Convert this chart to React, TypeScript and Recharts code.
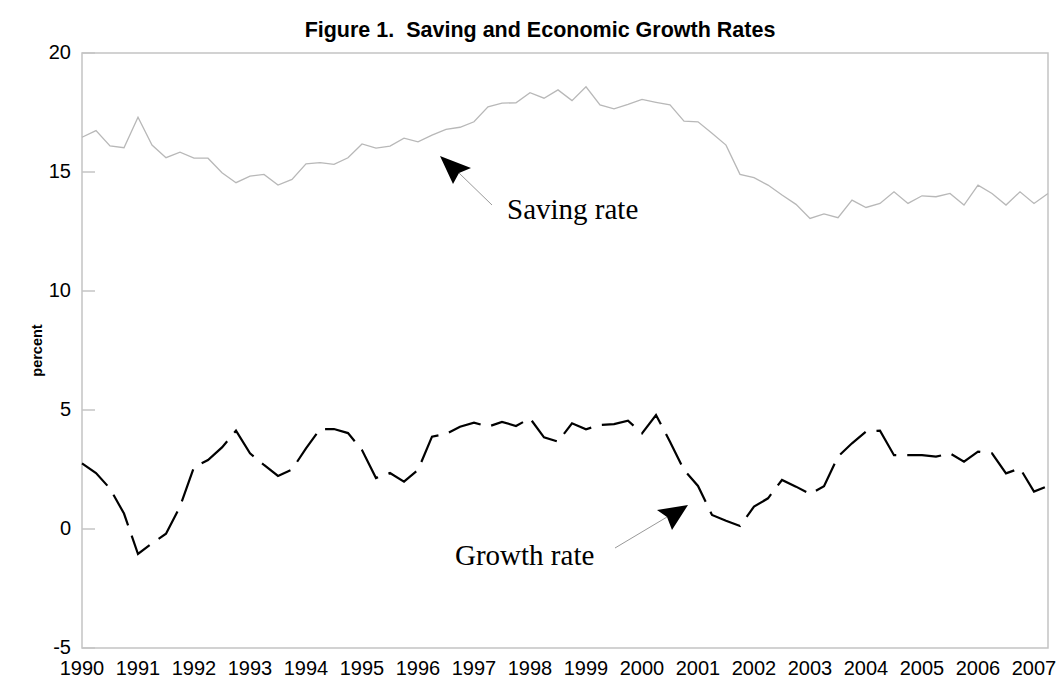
import { LineChart, Line, XAxis, YAxis, ReferenceArea } from "recharts";

// quarterly, 1990Q1 .. 2007Q2
const yearLabels = ["1990", "1991", "1992", "1993", "1994", "1995", "1996", "1997", "1998", "1999", "2000", "2001", "2002", "2003", "2004", "2005", "2006", "2007"];
const yTicks = [-5, 0, 5, 10, 15, 20];

const savingRate = [
  16.46, 16.74, 16.1, 16.02, 17.3, 16.13, 15.6, 15.83, 15.58, 15.58,
  14.97, 14.55, 14.83, 14.9, 14.45, 14.69, 15.34, 15.39, 15.32, 15.6,
  16.18, 16.0, 16.09, 16.42, 16.27, 16.55, 16.79, 16.88, 17.11, 17.74,
  17.89, 17.91, 18.33, 18.1, 18.45, 18.0, 18.58, 17.82, 17.65, 17.84,
  18.05, 17.93, 17.82, 17.14, 17.11, 16.63, 16.13, 14.9, 14.76, 14.45,
  14.03, 13.64, 13.05, 13.24, 13.08, 13.82, 13.51, 13.68, 14.17, 13.68,
  14.0, 13.96, 14.1, 13.61, 14.45, 14.1, 13.61, 14.17, 13.68, 14.1,
];

const growthRate = [
  2.76, 2.35, 1.7, 0.65, -1.05, -0.6, -0.2, 0.94, 2.6, 2.9,
  3.43, 4.13, 3.18, 2.69, 2.23, 2.5, 3.39, 4.2, 4.2, 4.03,
  3.32, 2.14, 2.35, 1.99, 2.48, 3.88, 3.99, 4.3, 4.47, 4.3,
  4.5, 4.33, 4.65, 3.85, 3.67, 4.44, 4.19, 4.37, 4.41, 4.55,
  4.02, 4.79, 3.67, 2.48, 1.81, 0.59, 0.35, 0.13, 0.94, 1.29,
  2.06, 1.78, 1.47, 1.8, 3.04, 3.6, 4.09, 4.13, 3.1, 3.1,
  3.1, 3.04, 3.18, 2.83, 3.25, 3.18, 2.34, 2.55, 1.57, 1.81,
];

const data = savingRate.map((s, i) => ({ q: i, saving: s, growth: growthRate[i] }));
const xTicks = yearLabels.map((_, i) => i * 4);
const lastQ = savingRate.length - 1;

const FRAME = "#c4c4c4";
const SANS = "'Liberation Sans', Arial, sans-serif";
const SERIF = "'Liberation Serif', 'Times New Roman', serif";

function YTick(props: any) {
  const { x, y, payload } = props;
  return (
    <g>
      <line x1={x + 11} x2={x + 24} y1={y} y2={y} stroke={FRAME} strokeWidth={1.5} />
      <text x={x} y={y} dy="0.32em" textAnchor="end" fontSize={20} fontFamily={SANS} fill="#000">
        {payload.value}
      </text>
    </g>
  );
}

export default function App() {
  return (
    <div style={{ position: "absolute", left: 0, top: 0, width: 1060, height: 679, background: "#fff" }}>
      <LineChart width={1060} height={679} data={data} margin={{ top: 53, right: 12, bottom: 0, left: 0 }}>
        <XAxis
          dataKey="q"
          type="number"
          domain={[0, lastQ]}
          ticks={xTicks}
          tickFormatter={(v) => yearLabels[v / 4]}
          height={31}
          axisLine={false}
          tickLine={false}
          tickSize={0}
          tickMargin={13}
          interval={0}
          tick={{ fontSize: 20, fontFamily: SANS, fill: "#000" }}
        />
        <YAxis
          domain={[-5, 20]}
          ticks={yTicks}
          width={82}
          axisLine={false}
          tickLine={false}
          tickSize={0}
          tickMargin={11}
          interval={0}
          tick={<YTick />}
          label={{ value: "percent", angle: -90, position: "insideLeft", dx: 32, style: { fontSize: 14.5, fontWeight: "bold", fontFamily: SANS, fill: "#000", textAnchor: "middle" } }}
        />
        <ReferenceArea x1={0} x2={lastQ} y1={-5} y2={20} fill="none" stroke={FRAME} strokeWidth={1.5} ifOverflow="visible" />
        <Line type="linear" dataKey="saving" stroke="#b8b8b8" strokeWidth={1.3} dot={false} isAnimationActive={false} />
        <Line type="linear" dataKey="growth" stroke="#000" strokeWidth={2.2} strokeDasharray="34 11" dot={false} isAnimationActive={false} />
      </LineChart>
      <svg width={1060} height={679} style={{ position: "absolute", left: 0, top: 0, pointerEvents: "none" }}>
        <text x={540} y={37} textAnchor="middle" fontSize={21.5} fontWeight="bold" fontFamily={SANS} fill="#000">
          Figure 1.{"\u00a0"} Saving and Economic Growth Rates
        </text>
        <line x1={459} y1={173} x2={492} y2={205} stroke="#999" strokeWidth={1} />
        <polygon points="440,156 471,168 459,173 453,184" fill="#000" />
        <text x={507} y={219} fontSize={29} fontFamily={SERIF} fill="#000">Saving rate</text>
        <line x1={667} y1={517} x2={615} y2={548} stroke="#999" strokeWidth={1} />
        <polygon points="688,505 657,510 667,517 672,530" fill="#000" />
        <text x={455} y={565} fontSize={29} fontFamily={SERIF} fill="#000">Growth rate</text>
      </svg>
    </div>
  );
}
